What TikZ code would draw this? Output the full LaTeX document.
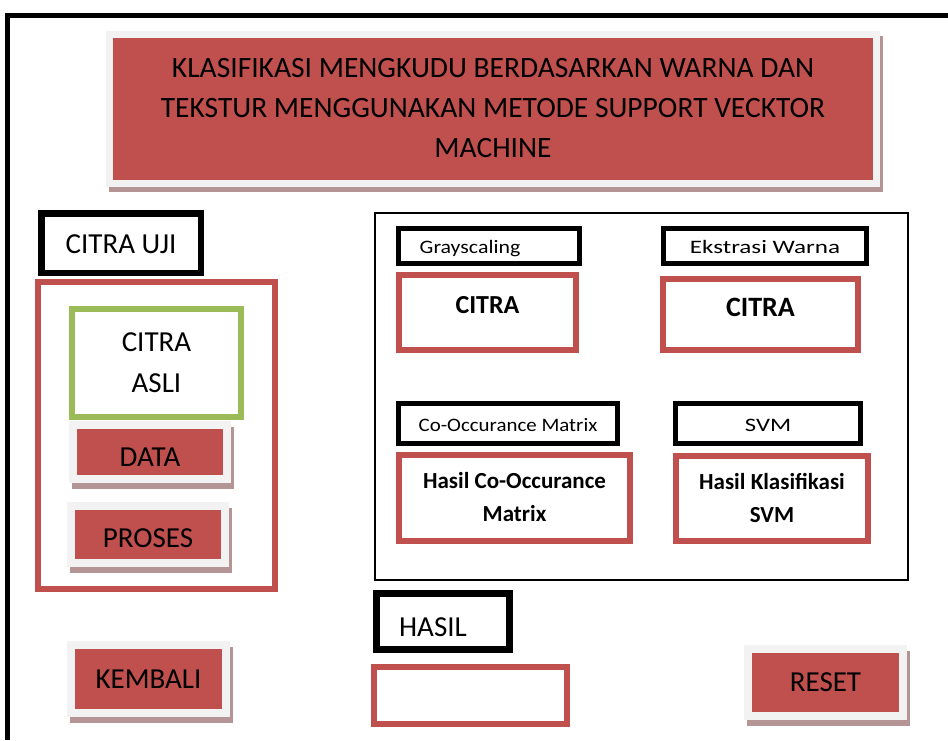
\documentclass[tikz,border=0pt]{standalone}
\usepackage{fontspec}
\setmainfont{Carlito}
\usepackage{graphicx}
\usepackage[usenames,dvipsnames]{xcolor}
\usetikzlibrary{calc}
\usetikzlibrary{backgrounds}
\definecolor{merah}{RGB}{192,80,77}
\definecolor{hijau}{RGB}{155,187,89}
\definecolor{abu}{RGB}{242,242,242}
\definecolor{bayang}{RGB}{180,148,148}
\tikzset{
	tombol/.style={draw=abu, line width=8pt, fill=merah, inner sep=0pt, font=\fontsize{29}{32}\selectfont},
	kotakmerah/.style={draw=merah, line width=6pt, inner sep=0pt},
	kotakhitam/.style={draw=black, line width=6.5pt, inner sep=0pt, font=\fontsize{29}{32}\selectfont},
	labelkecil/.style={draw=black, line width=5pt, inner sep=0pt, text height=17pt, text depth=2pt, font=\fontsize{19}{22}\selectfont},
	tebal/.style={font=\fontsize{23}{33}\selectfont\bfseries, align=center}
}

\begin{document}
\begin{tikzpicture}[x=1pt,y=-1pt]
		\useasboundingbox (0,0) rectangle (948,740);
		\draw[line width=5pt] (7.5,740) |- (948,15);%bingkai
		
		\node[tombol, line width=7pt, minimum width=767pt, minimum height=149pt, align=center, font=\fontsize{29.5}{40}\selectfont] (judul) at (493,108.5) {KLASIFIKASI MENGKUDU BERDASARKAN WARNA DAN\\TEKSTUR MENGGUNAKAN METODE SUPPORT VECKTOR\\MACHINE};%judul
		
		\node[kotakhitam, minimum width=159.5pt, minimum height=59.5pt, text height=22pt] (citrauji) at (121,243) {CITRA UJI};
		\node[kotakmerah, minimum width=237pt, minimum height=307pt] (panelkiri) at (156.5,435.5) {};
		\node[draw=hijau, line width=6pt, minimum width=169pt, minimum height=108pt, align=center, font=\fontsize{29}{41}\selectfont] (citraasli) at (156.5,363) {CITRA\\ASLI};
		\node[tombol, minimum width=154pt, minimum height=54pt, text height=29pt] (data) at (150,452) {DATA};
		\node[tombol, minimum width=154pt, minimum height=57pt, text height=27pt] (proses) at (148,534.5) {PROSES};
		
		\node[draw, line width=2pt, minimum width=533pt, minimum height=367pt] (panelkanan) at (641.5,396.5) {};
		\node[labelkecil, minimum width=181pt, minimum height=35pt] (grayscaling) at (489,246) {\scalebox{1.15}[1]{Grayscaling}\hspace*{38pt}};
		\node[labelkecil, minimum width=203pt, minimum height=35pt] (ekstrasi) at (765,246) {\scalebox{1.32}[1]{Ekstrasi Warna}};
		\node[kotakmerah, line width=5.5pt, minimum width=177pt, minimum height=75pt, tebal, font=\fontsize{26}{30}\selectfont\bfseries, text depth=15pt] (citragray) at (487.5,312.5) {CITRA};
		\node[kotakmerah, line width=5.5pt, minimum width=195pt, minimum height=71pt, tebal, font=\fontsize{28}{30}\selectfont\bfseries, text depth=15pt] (citrawarna) at (760.5,314.5) {CITRA};
		\node[labelkecil, minimum width=219pt, minimum height=40pt] (cooc) at (508,423.5) {\scalebox{1.1}[1]{Co-Occurance Matrix}};
		\node[labelkecil, minimum width=185pt, minimum height=40pt] (svm) at (768,423.5) {\scalebox{1.3}[1]{SVM}};
		\node[kotakmerah, minimum width=231pt, minimum height=86pt, tebal] (hasilcooc) at (514.5,497.5) {Hasil Co-Occurance\\Matrix};
		\node[kotakmerah, minimum width=192pt, minimum height=85pt, tebal] (hasilsvm) at (772,498) {Hasil Klasifikasi\\SVM};
		
		\node[kotakhitam, line width=7pt, minimum width=133pt, minimum height=56pt, text height=31pt] (hasil) at (443,621) {HASIL\hspace*{20pt}};
		\node[kotakmerah, minimum width=193pt, minimum height=57pt] (keluaran) at (470.5,695.5) {};
		\node[tombol, minimum width=155pt, minimum height=68pt] (kembali) at (148.5,679) {KEMBALI};
		\node[tombol, minimum width=155pt, minimum height=67pt] (reset) at (825.5,682.5) {RESET};
		
		\begin{scope}[on background layer]
		\foreach \b in {judul,data,proses,kembali,reset}
		\fill[bayang] ($(\b.north west)+(2.5,5.5)$) rectangle ($(\b.south east)+(2.5,5.5)$);%bayangan
		\end{scope}
\end{tikzpicture}
\end{document}
